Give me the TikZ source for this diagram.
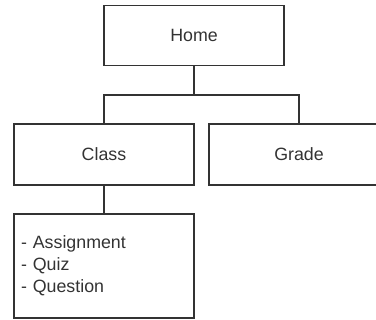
\documentclass[tikz,border=0pt]{standalone}
\usepackage{fontspec}
\setmainfont{Liberation Sans}
\usetikzlibrary{positioning}
\definecolor{inkgray}{HTML}{333333}
\tikzset{page/.style={draw=inkgray, line width=1.3pt, minimum width=180pt, minimum height=60pt, inner sep=7pt, text=inkgray, font=\fontsize{17.8}{21.8}\selectfont}}

\begin{document}
\begin{tikzpicture}[x=1pt,y=-1pt]
\useasboundingbox (0,0) rectangle (376,320);
\clip (0,0) rectangle (376,320);
\node[page] (home) at (194,35.5) {Home};
\node[page, minimum height=61pt] (class) at (104,154.5) {Class};
\node[page, minimum height=61pt] (grade) at (299,154.5) {Grade};
\node[page, minimum height=104pt, text width=166pt, align=left] (tasks) at (104,266) {- Assignment\\- Quiz\\- Question};
\coordinate (split) at (194,95);
\draw[inkgray, line width=1.3pt] (home) -- (split);
\draw[inkgray, line width=1.3pt] (split) -| (class.north);
\draw[inkgray, line width=1.3pt] (split) -| (grade.north);
\draw[inkgray, line width=1.3pt] (class) -- (tasks);
\end{tikzpicture}
\end{document}
